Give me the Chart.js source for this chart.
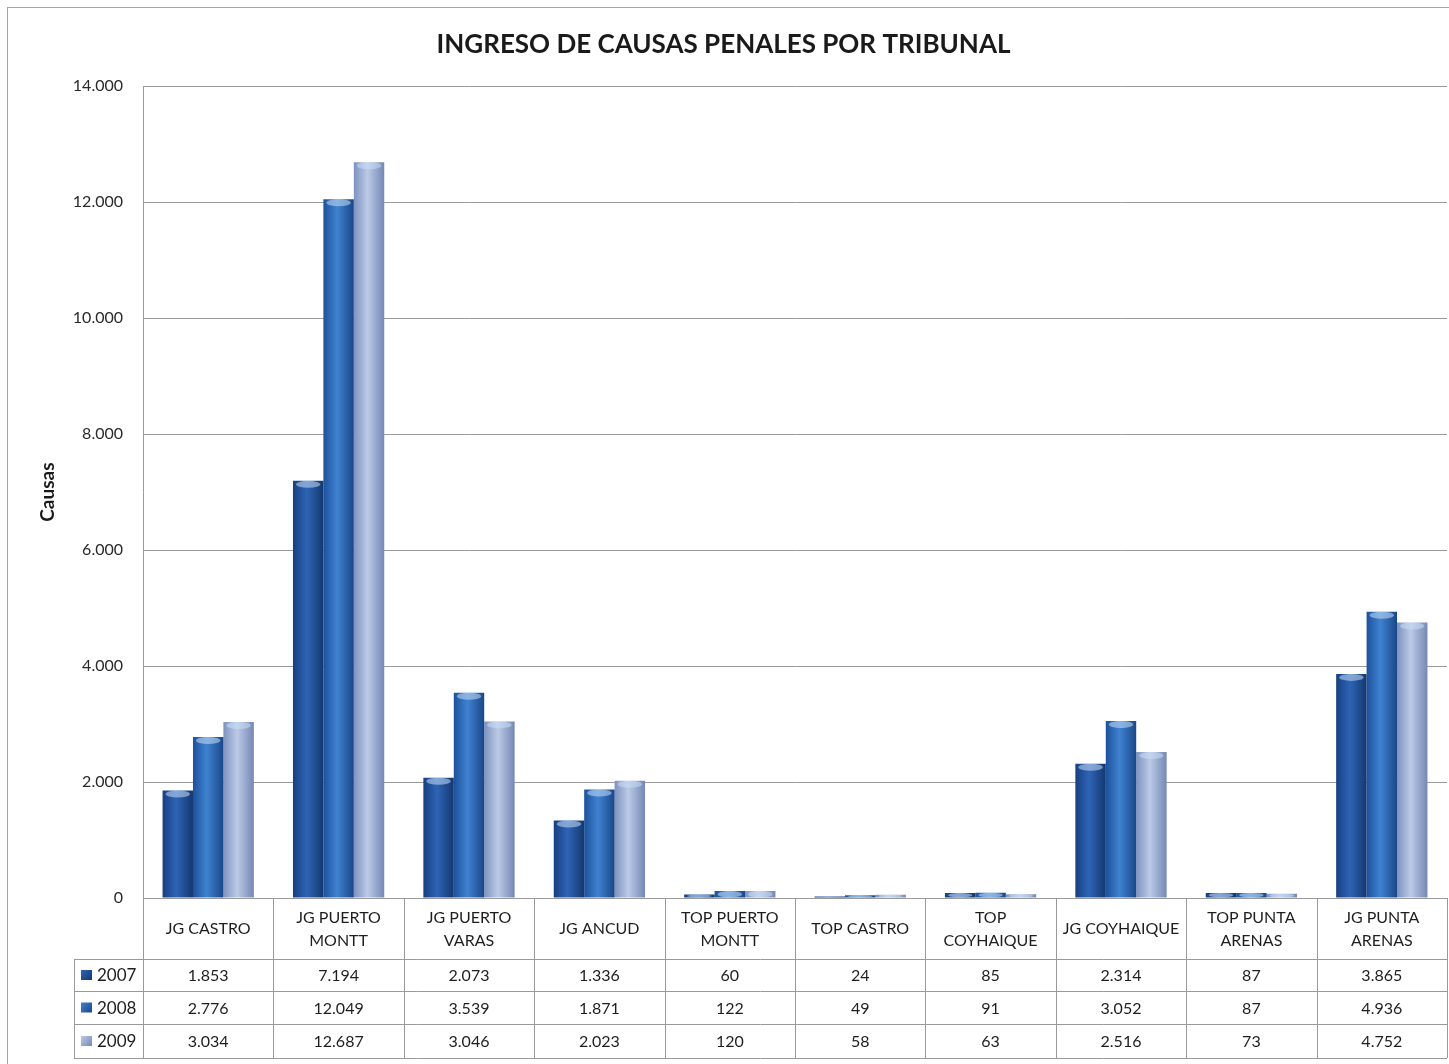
<!DOCTYPE html>
<html>
<head>
<meta charset="utf-8">
<script src="https://cdn.jsdelivr.net/npm/chart.js@4.4.0/dist/chart.umd.min.js"></script>
<style>
  html, body { margin: 0; padding: 0; background: #fff; }
</style>
</head>
<body>
<canvas id="causasChart" width="1449" height="1064"></canvas>
<script>
const tribunales = [
  ['JG CASTRO'], ['JG PUERTO', 'MONTT'], ['JG PUERTO', 'VARAS'], ['JG ANCUD'],
  ['TOP PUERTO', 'MONTT'], ['TOP CASTRO'], ['TOP', 'COYHAIQUE'], ['JG COYHAIQUE'],
  ['TOP PUNTA', 'ARENAS'], ['JG PUNTA', 'ARENAS']
];
const anios = ['2007', '2008', '2009'];
const causas2007 = [1853, 7194, 2073, 1336, 60, 24, 85, 2314, 87, 3865];
const causas2008 = [2776, 12049, 3539, 1871, 122, 49, 91, 3052, 87, 4936];
const causas2009 = [3034, 12687, 3046, 2023, 120, 58, 63, 2516, 73, 4752];
const yMax = 14000;
const yStep = 2000;

// colores tipo cilindro: borde, centro, borde
const tonos = [
  ['#183f80', '#2e64b6', '#14386f'],
  ['#1d519c', '#3f82d0', '#1a4788'],
  ['#7d92bf', '#bccae6', '#7488b5']
];
const series = [causas2007, causas2008, causas2009];

const fmt = v => String(v).replace(/\B(?=(\d{3})+(?!\d))/g, '.');
const FONT = 'Lato, "Open Sans", sans-serif';

const bordeExterior = {
  id: 'bordeExterior',
  beforeDraw(chart) {
    const c = chart.ctx;
    c.save();
    c.strokeStyle = '#a6a6a6';
    c.lineWidth = 1;
    c.strokeRect(7.5, 7.5, 1460, 1100);
    c.restore();
  }
};

const cilindros = {
  id: 'cilindros',
  beforeDatasetsDraw(chart) {
    const c = chart.ctx;
    chart.data.datasets.forEach((ds, i) => {
      chart.getDatasetMeta(i).data.forEach(bar => {
        const l = bar.x - bar.width / 2, r = bar.x + bar.width / 2;
        const g = c.createLinearGradient(l, 0, r, 0);
        g.addColorStop(0, tonos[i][0]);
        g.addColorStop(0.45, tonos[i][1]);
        g.addColorStop(1, tonos[i][2]);
        bar.options.backgroundColor = g;
      });
    });
  },
  afterDatasetsDraw(chart) {
    const c = chart.ctx;
    c.save();
    chart.data.datasets.forEach((ds, i) => {
      chart.getDatasetMeta(i).data.forEach(bar => {
        const h = Math.min(3.5, (bar.base - bar.y) / 2);
        if (h < 1) return;
        c.fillStyle = 'rgba(200,222,245,0.55)';
        c.beginPath();
        c.ellipse(bar.x, bar.y + h, bar.width / 2 - 3, h, 0, 0, Math.PI * 2);
        c.fill();
      });
    });
    c.restore();
  }
};

const tablaDatos = {
  id: 'tablaDatos',
  afterDraw(chart) {
    const c = chart.ctx;
    const x = chart.scales.x;
    const ca = chart.chartArea;
    const n = tribunales.length;
    const colW = (ca.right - ca.left) / n;
    const filas = [ca.bottom, 959, 991, 1024, 1058];
    const izq = 74;
    c.save();
    c.strokeStyle = '#9a9a9a';
    c.lineWidth = 1;
    c.beginPath();
    for (let k = 1; k < filas.length; k++) {
      const y = Math.round(filas[k]) + 0.5;
      c.moveTo(izq, y);
      c.lineTo(ca.right, y);
    }
    for (let i = 0; i <= n; i++) {
      const xx = Math.round(ca.left + i * colW) + 0.5;
      c.moveTo(xx, filas[0]);
      c.lineTo(xx, filas[4]);
    }
    c.moveTo(izq + 0.5, filas[1]);
    c.lineTo(izq + 0.5, filas[4]);
    c.stroke();

    c.fillStyle = '#1e1e1e';
    c.font = '16px ' + FONT;
    c.textAlign = 'center';
    c.textBaseline = 'middle';
    const yHead = (filas[0] + filas[1]) / 2;
    tribunales.forEach((lab, i) => {
      const cx = x.getPixelForValue(i);
      if (lab.length === 1) {
        c.fillText(lab[0], cx, yHead);
      } else {
        c.fillText(lab[0], cx, yHead - 11);
        c.fillText(lab[1], cx, yHead + 12);
      }
      series.forEach((s, k) => {
        c.fillText(fmt(s[i]), cx, (filas[k + 1] + filas[k + 2]) / 2 + 1);
      });
    });

    c.textAlign = 'left';
    c.font = '17px ' + FONT;
    anios.forEach((a, k) => {
      const cy = (filas[k + 1] + filas[k + 2]) / 2;
      const g = c.createLinearGradient(81, cy - 5, 92, cy + 5);
      g.addColorStop(0, tonos[k][1]);
      g.addColorStop(1, tonos[k][2]);
      c.fillStyle = g;
      c.fillRect(81, cy - 5, 11, 10);
      c.fillStyle = '#1e1e1e';
      c.fillText(a, 97, cy + 1);
    });
    c.restore();
  }
};

new Chart(document.getElementById('causasChart'), {
  type: 'bar',
  data: {
    labels: tribunales,
    datasets: anios.map((a, i) => ({
      label: a,
      data: series[i],
      backgroundColor: () => tonos[i][1],
      borderWidth: 0,
      categoryPercentage: 0.7,
      barPercentage: 1.0
    }))
  },
  options: {
    responsive: false,
    animation: false,
    events: [],
    layout: { padding: { left: 0, right: 2, top: 0, bottom: 166 } },
    plugins: {
      legend: { display: false },
      tooltip: { enabled: false },
      title: {
        display: true,
        text: 'INGRESO DE CAUSAS PENALES POR TRIBUNAL',
        color: '#1a1a1a',
        font: { family: FONT, size: 26, weight: 'bold' },
        padding: { top: 29, bottom: 26 }
      }
    },
    scales: {
      x: {
        grid: { display: false },
        ticks: { display: false },
        border: { display: true, color: '#9a9a9a' },
        afterFit(scale) { scale.height = 0; }
      },
      y: {
        min: 0,
        max: yMax,
        grid: { color: '#9a9a9a', drawTicks: false },
        border: { display: true, color: '#9a9a9a' },
        ticks: {
          stepSize: yStep,
          padding: 20,
          color: '#2a2a2a',
          font: { family: FONT, size: 16 },
          callback: v => fmt(v)
        },
        title: {
          display: true,
          text: 'Causas',
          color: '#1a1a1a',
          font: { family: FONT, size: 19, weight: 'bold' },
          padding: { top: 36, bottom: 0 }
        },
        afterFit(scale) { scale.width = 143; }
      }
    }
  },
  plugins: [bordeExterior, cilindros, tablaDatos]
});
</script>
</body>
</html>
